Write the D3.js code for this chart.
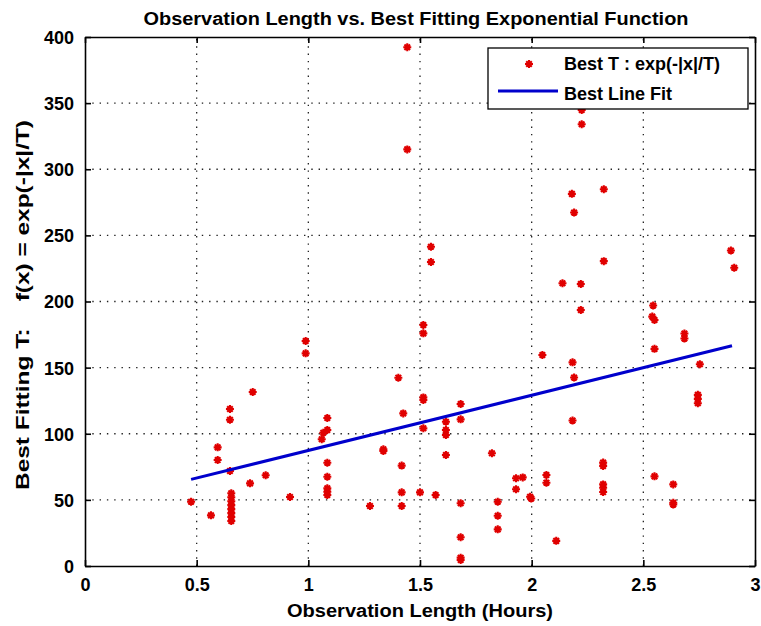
<!DOCTYPE html>
<html><head><meta charset="utf-8">
<script src="https://cdn.jsdelivr.net/npm/d3@7"></script>
<style>body{margin:0;background:#fff}text{font-family:"Liberation Sans",Arial,sans-serif;font-weight:bold;fill:#000}</style>
</head><body><svg id="c" width="761" height="626"></svg>
<script>
// ---- data ----
const obsHours = [
  0.475, 0.564, 0.594, 0.594, 0.649, 0.649, 0.649,
  0.655, 0.655, 0.655, 0.655, 0.655, 0.655, 0.655, 0.655,
  0.739, 0.751, 0.809, 0.918, 0.988, 0.988,
  1.085, 1.085, 1.067, 1.060, 1.085, 1.085, 1.085, 1.085, 1.085,
  1.276, 1.336, 1.336, 1.403, 1.425, 1.418, 1.418, 1.418,
  1.443, 1.443, 1.500, 1.515, 1.515, 1.515, 1.515, 1.515,
  1.549, 1.549, 1.570, 1.616, 1.616, 1.616, 1.616,
  1.682, 1.682, 1.682, 1.682, 1.682, 1.682,
  1.822, 1.848, 1.848, 1.848, 1.930, 1.930, 1.960, 1.993, 1.998,
  2.048, 2.066, 2.066, 2.110, 2.138, 2.220, 2.220, 2.224, 2.224,
  2.180, 2.190, 2.183, 2.190, 2.183,
  2.323, 2.323, 2.320, 2.320, 2.320, 2.320, 2.320,
  2.544, 2.540, 2.550, 2.550, 2.550, 2.634, 2.634, 2.634,
  2.684, 2.684, 2.753, 2.744, 2.744, 2.744, 2.892, 2.907
];
const bestT = [
  48.6, 38.3, 89.7, 80.1, 118.7, 110.6, 71.8,
  55, 52, 49, 46, 43, 40, 37, 34,
  62.5, 131.6, 68.6, 52.2, 170.1, 160.8,
  111.9, 102.8, 100.8, 95.8, 78.1, 67.5, 58.7, 56.2, 53.7,
  45.4, 88.2, 87.0, 142.4, 115.4, 75.9, 55.7, 45.4,
  392.2, 315.0, 55.7, 182.2, 175.9, 127.5, 125.5, 104.1,
  241.4, 229.9, 53.7, 109.1, 102.8, 99.1, 83.9,
  122.5, 110.9, 47.4, 21.7, 6.3, 4.5,
  85.2, 48.6, 38.0, 27.7, 66.3, 58.0, 67.0, 52.4, 51.0,
  159.5, 68.8, 63.0, 19.0, 213.8, 213.2, 193.6, 344.8, 334.0,
  281.4, 267.3, 154.0, 142.5, 110.0,
  284.9, 230.5, 78.2, 75.7, 61.7, 59.2, 55.9,
  197.0, 188.6, 186.0, 164.2, 67.8, 61.7, 47.8, 46.5,
  175.8, 172.0, 152.6, 129.4, 126.4, 123.1, 238.6, 225.5
];
const fitHours = [0.475, 2.897];
const fitT = [65.5, 166.5];
const xTicks = [0, 0.5, 1, 1.5, 2, 2.5, 3];
const yTicks = [0, 50, 100, 150, 200, 250, 300, 350, 400];
const titleText = "Observation Length vs. Best Fitting Exponential Function";
const xLabelText = "Observation Length (Hours)";
const yLabelText = "Best Fitting T:    f(x) = exp(-|x|/T)";
const legendLabels = ["Best T : exp(-|x|/T)", "Best Line Fit"];

// ---- layout ----
const L = 85, R = 755, T = 37, B = 566;
const svg = d3.select("#c");
const x = d3.scaleLinear().domain([0, 3]).range([L, R]);
const y = d3.scaleLinear().domain([0, 400]).range([B, T]);

// grid
const grid = svg.append("g").attr("stroke", "#222").attr("stroke-width", 1.3).attr("stroke-dasharray", "1.4,5.9");
grid.selectAll("line.gx").data(xTicks.slice(1, -1)).join("line")
  .attr("x1", d => x(d)).attr("x2", d => x(d)).attr("y1", B).attr("y2", T);
grid.selectAll("line.gy").data(yTicks.slice(1, -1)).join("line")
  .attr("x1", L).attr("x2", R).attr("y1", d => y(d)).attr("y2", d => y(d));

// axes
const axB = svg.append("g").attr("transform", `translate(0,${B})`)
  .call(d3.axisBottom(x).tickValues(xTicks).tickSizeInner(-6).tickSizeOuter(0).tickPadding(12).tickFormat(d => String(d)));
const axT = svg.append("g").attr("transform", `translate(0,${T})`)
  .call(d3.axisTop(x).tickValues(xTicks).tickSizeInner(-6).tickSizeOuter(0).tickFormat(""));
const axL = svg.append("g").attr("transform", `translate(${L},0)`)
  .call(d3.axisLeft(y).tickValues(yTicks).tickSizeInner(-6).tickSizeOuter(0).tickPadding(11).tickFormat(d => String(d)));
const axR = svg.append("g").attr("transform", `translate(${R},0)`)
  .call(d3.axisRight(y).tickValues(yTicks).tickSizeInner(-6).tickSizeOuter(0).tickFormat(""));
[axB, axT, axL, axR].forEach(a => {
  a.selectAll("path.domain").attr("stroke", "#000").attr("stroke-width", 1.6);
  a.selectAll(".tick line").attr("stroke", "#000").attr("stroke-width", 1.6);
  a.selectAll("text").style("font-size", "18px").style("font-family", "Liberation Sans, Arial, sans-serif").style("font-weight", "bold").attr("fill", "#000");
});
axB.selectAll("text").attr("dy", "0.72em");
axL.selectAll("text").attr("dy", "0.36em");

// points
const star = "M-4,0H4M0,-4V4M-2.8,-2.8L2.8,2.8M-2.8,2.8L2.8,-2.8";
svg.append("g").selectAll("path").data(obsHours.map((h, i) => [h, bestT[i]])).join("path")
  .attr("d", star).attr("transform", d => `translate(${x(d[0])},${y(d[1])})`)
  .attr("stroke", "#e00000").attr("stroke-width", 2.1).attr("fill", "none");

// fit line
svg.append("path").datum(fitHours.map((h, i) => [h, fitT[i]]))
  .attr("d", d3.line().x(d => x(d[0])).y(d => y(d[1])))
  .attr("stroke", "#0000cc").attr("stroke-width", 3).attr("fill", "none");

// title & labels
svg.append("text").attr("x", 416).attr("y", 25).attr("text-anchor", "middle")
  .attr("textLength", 545).attr("lengthAdjust", "spacingAndGlyphs").style("font-size", "18px").text(titleText);
svg.append("text").attr("x", 420).attr("y", 617).attr("text-anchor", "middle")
  .attr("textLength", 266).attr("lengthAdjust", "spacingAndGlyphs").style("font-size", "18px").text(xLabelText);
svg.append("text").attr("transform", "translate(29,305) rotate(-90)").attr("text-anchor", "middle")
  .attr("textLength", 370).attr("lengthAdjust", "spacingAndGlyphs").style("font-size", "18px")
  .style("white-space", "pre").attr("xml:space", "preserve").text(yLabelText);

// legend
const lg = svg.append("g");
svg.append("clipPath").attr("id", "lgclip").append("rect").attr("x", 488).attr("y", 48).attr("width", 259).attr("height", 61);
lg.append("rect").attr("x", 488).attr("y", 48).attr("width", 260).attr("height", 61)
  .attr("fill", "#fff").attr("stroke", "#000").attr("stroke-width", 1.3);
lg.append("path").attr("d", star).attr("transform", "translate(529,64)")
  .attr("stroke", "#e00000").attr("stroke-width", 2.1).attr("fill", "none");
lg.append("line").attr("x1", 498).attr("x2", 558).attr("y1", 91).attr("y2", 91)
  .attr("stroke", "#0000cc").attr("stroke-width", 3);
const lt = lg.append("g").attr("clip-path", "url(#lgclip)");
lt.append("text").attr("x", 564).attr("y", 70).style("font-size", "18px").text(legendLabels[0]);
lt.append("text").attr("x", 564).attr("y", 100).style("font-size", "18px").text(legendLabels[1]);
</script>
</body></html>
